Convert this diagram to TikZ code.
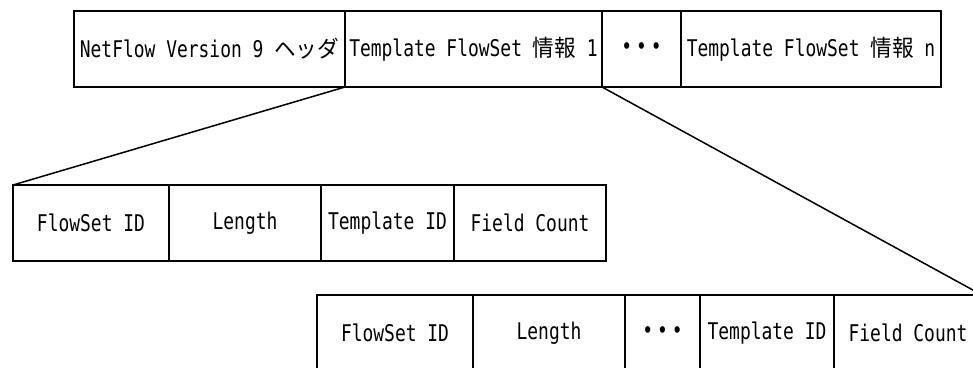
\documentclass[tikz,border=0pt]{standalone}
\usepackage{fontspec}
\setmainfont[FakeStretch=0.78]{DejaVu Sans Mono}
\newfontfamily\jp[FakeStretch=0.94]{Noto Sans CJK JP}
\newcommand{\threedots}{•\hspace{4pt}•\hspace{4pt}•}
\tikzset{
  cell/.style={draw, line width=1.5pt, inner sep=0pt, outer sep=0pt,
    minimum height=76pt, font=\fontsize{23}{23}\selectfont},
  conn/.style={draw, line width=1.5pt}
}
\begin{document}
\begin{tikzpicture}[x=1pt,y=-1pt]
\clip (0,0) rectangle (973,367);
% top row
\node[cell, minimum width=271pt] (h)  at (209.5,49) {NetFlow Version 9 {\jp ヘッダ}};
\node[cell, minimum width=257pt] (t1) at (473.5,49) {Template FlowSet {\jp 情報} 1};
\node[cell, minimum width=79pt]  (td) at (641.5,49) {\threedots};
\node[cell, minimum width=260pt] (tn) at (811,49)   {Template FlowSet {\jp 情報} n};
% middle row
\node[cell, minimum width=156pt] (m1) at (91,223)    {FlowSet ID};
\node[cell, minimum width=152pt] (m2) at (245,223)   {Length};
\node[cell, minimum width=133pt] (m3) at (387.5,223) {Template ID};
\node[cell, minimum width=152pt] (m4) at (530,223)   {Field Count};
% bottom row
\node[cell, minimum width=156pt] (b1) at (395,333)   {FlowSet ID};
\node[cell, minimum width=152pt] (b2) at (549,333)   {Length};
\node[cell, minimum width=75pt]  (b3) at (662.5,333) {\threedots};
\node[cell, minimum width=134pt] (b4) at (767,333)   {Template ID};
\node[cell, minimum width=148pt] (b5) at (908,333)   {Field Count};
% connectors
\draw[conn] (t1.south west) -- (m1.north west);
\draw[conn] (t1.south east) -- (b5.north east);
\end{tikzpicture}
\end{document}
